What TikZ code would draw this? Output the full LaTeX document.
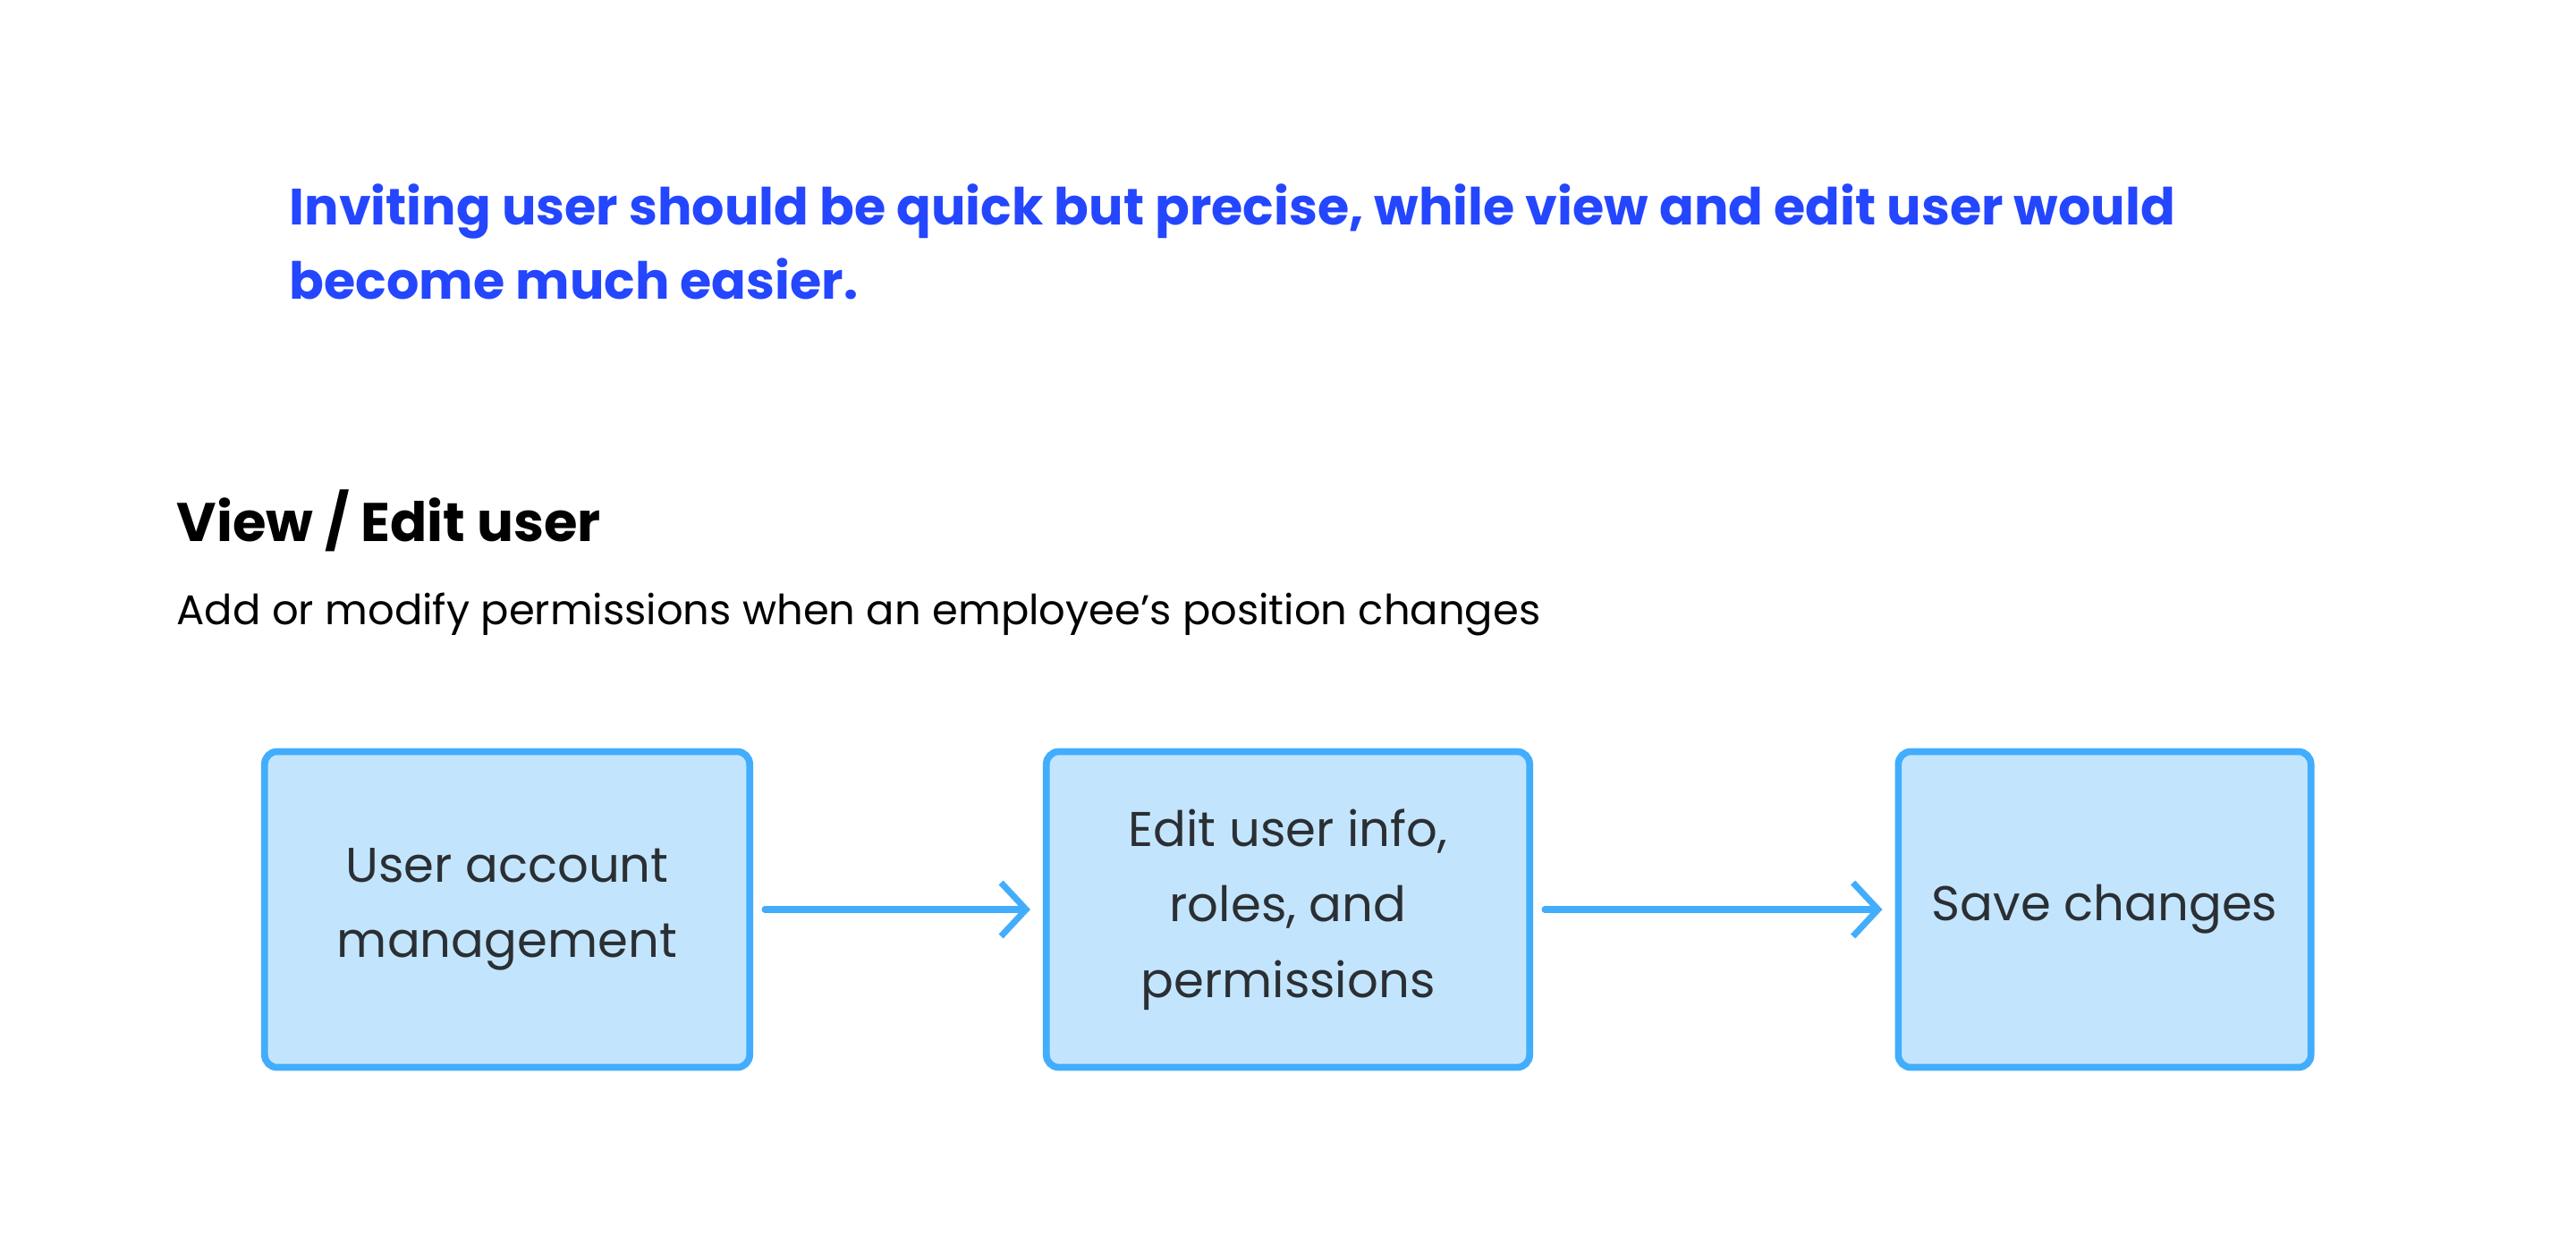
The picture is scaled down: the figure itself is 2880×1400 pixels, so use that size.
\documentclass[tikz,border=0pt]{standalone}
\usepackage{fontspec}
\setmainfont{Poppins}
\usepackage{tikz}
\usetikzlibrary{arrows.meta}

\definecolor{titleblue}{HTML}{2446FF}
\definecolor{boxfill}{HTML}{C2E5FD}
\definecolor{boxline}{HTML}{42ADFC}
\definecolor{boxtext}{HTML}{2B2F33}

\begin{document}
\begin{tikzpicture}[x=0.01cm, y=-0.01cm,
  stepbox/.style={draw=boxline, fill=boxfill, line width=2.2pt,
    rounded corners=4pt, minimum height=3.53cm, align=center,
    text=boxtext, font=\fontsize{15.5}{24}\selectfont, inner sep=0pt},
  flow/.style={draw=boxline, line width=2pt, line cap=round,
    -{Straight Barb[length=2.8mm, width=6mm, line width=2pt]},
    shorten <=0.13cm, shorten >=0.14cm}]
  \useasboundingbox (0,0) rectangle (2880,1400);
  \node[anchor=base west, align=left, text=titleblue, inner sep=0pt,
    font=\fontsize{16.25}{23.5}\selectfont\bfseries] (claim) at (323,334)
    {Inviting user should be quick but precise, while view and edit user would\\
     become much easier.};
  \node[anchor=base west, inner sep=0pt, font=\fontsize{17.3}{22}\selectfont\bfseries] (heading) at (197,606)
    {View / Edit user};
  \node[anchor=base west, inner sep=0pt, font=\fontsize{13.2}{20}\selectfont] (subline) at (197,698)
    {Add or modify permissions when an employee’s position changes};
  \node[stepbox, minimum width=5.42cm] (account) at (567,1017) {User account\\management};
  \node[stepbox, minimum width=5.40cm] (edit) at (1440,1017) {Edit user info,\\roles, and\\permissions};
  \node[stepbox, minimum width=4.61cm] (save) at (2353,1017) {Save changes};
  \draw[flow] (account) -- (edit);
  \draw[flow] (edit) -- (save);
\end{tikzpicture}
\end{document}
